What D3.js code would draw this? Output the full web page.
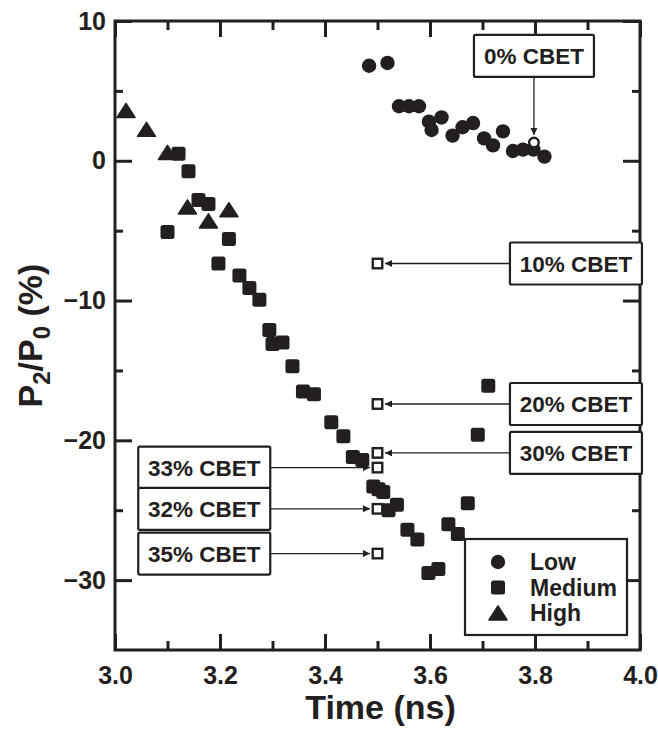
<!DOCTYPE html>
<html>
<head>
<meta charset="utf-8">
<script src="https://cdn.jsdelivr.net/npm/d3@7"></script>
<style>
  body { margin: 0; background: #fff; }
  svg { display: block; font-family: "Liberation Sans", Arial, Helvetica, sans-serif; font-weight: bold; }
</style>
</head>
<body>
<div id="root"></div>
<script>
'use strict';

// data: time (ns) and P2/P0 (%)
var lowTime = [3.484, 3.519, 3.541, 3.560, 3.579, 3.598, 3.603, 3.622, 3.643, 3.662, 3.682, 3.703, 3.720, 3.739, 3.758, 3.777, 3.797, 3.818];
var lowP2 = [6.8, 7.0, 3.9, 3.9, 3.9, 2.8, 2.2, 3.1, 1.8, 2.4, 2.7, 1.6, 1.1, 2.1, 0.7, 0.8, 0.8, 0.3];

var medTime = [3.100, 3.121, 3.140, 3.159, 3.178, 3.197, 3.217, 3.237, 3.256, 3.275, 3.294, 3.300, 3.319, 3.338, 3.358, 3.379, 3.412,
  3.435, 3.453, 3.471, 3.492, 3.502, 3.511, 3.521, 3.537, 3.557, 3.576, 3.597, 3.616, 3.635, 3.653, 3.672, 3.691, 3.711];
var medP2 = [-5.1, 0.5, -0.75, -2.8, -3.1, -7.35, -5.6, -8.2, -9.1, -9.95, -12.1, -13.1, -13.0, -14.7, -16.5, -16.7, -18.7,
  -19.7, -21.2, -21.4, -23.3, -23.5, -23.7, -25.0, -24.6, -26.4, -27.1, -29.5, -29.2, -26.0, -26.7, -24.5, -19.6, -16.1];

var highTime = [3.021, 3.060, 3.100, 3.138, 3.178, 3.217];
var highP2 = [3.6, 2.25, 0.6, -3.3, -4.3, -3.5];

// CBET simulation markers and their labels
var cbetLabels = ['0% CBET', '10% CBET', '20% CBET', '30% CBET', '33% CBET', '32% CBET', '35% CBET'];
var cbetTime = [3.798, 3.5, 3.5, 3.5, 3.5, 3.5, 3.5];
var cbetP2 = [1.3, -7.35, -17.4, -20.9, -21.95, -24.9, -28.1];
var cbetSide = ['top', 'right', 'right', 'right', 'left', 'left', 'left'];

var xMajor = [3.0, 3.2, 3.4, 3.6, 3.8, 4.0];
var xMinor = [3.1, 3.3, 3.5, 3.7, 3.9];
var yMajor = [10, 0, -10, -20, -30];
var yMinor = [5, -5, -15, -25];

var legendLabels = ['Low', 'Medium', 'High'];

var ink = '#231f20';
var width = 658;
var height = 731;
var mLeft = 115, mRight = 640, mTop = 21, mBottom = 650;

var x = d3.scaleLinear().domain([3, 4]).range([mLeft, mRight]);
var y = d3.scaleLinear().domain([-35, 10]).range([mBottom, mTop]);

var svg = d3.select('#root')
  .append('svg')
  .attr('width', width)
  .attr('height', height);

var defs = svg.append('defs');
defs.append('marker')
  .attr('id', 'head')
  .attr('markerUnits', 'userSpaceOnUse')
  .attr('viewBox', '0 0 10 10')
  .attr('refX', 10)
  .attr('refY', 5)
  .attr('markerWidth', 10)
  .attr('markerHeight', 7)
  .attr('orient', 'auto')
  .append('path')
  .attr('d', 'M0,0L10,5L0,10Z')
  .attr('fill', ink);

function styleAxis(g, fontSize) {
  g.select('.domain').remove();
  g.selectAll('.tick line').attr('stroke', ink).attr('stroke-width', 3);
  g.selectAll('.tick text')
    .attr('fill', ink)
    .style('font-size', fontSize + 'px')
    .style('font-family', '"Liberation Sans", Arial, sans-serif')
    .style('font-weight', 'bold');
}

// bottom / top
svg.append('g').attr('transform', `translate(0,${mBottom})`)
  .call(d3.axisBottom(x).tickValues(xMajor).tickFormat(d3.format('.1f')).tickSizeInner(-16).tickSizeOuter(0).tickPadding(16))
  .call(g => styleAxis(g, 25));
svg.append('g').attr('transform', `translate(0,${mBottom})`)
  .call(d3.axisBottom(x).tickValues(xMinor).tickFormat('').tickSizeInner(-9).tickSizeOuter(0))
  .call(g => styleAxis(g, 25));
svg.append('g').attr('transform', `translate(0,${mTop})`)
  .call(d3.axisTop(x).tickValues(xMajor).tickFormat('').tickSizeInner(-16).tickSizeOuter(0))
  .call(g => styleAxis(g, 25));
svg.append('g').attr('transform', `translate(0,${mTop})`)
  .call(d3.axisTop(x).tickValues(xMinor).tickFormat('').tickSizeInner(-9).tickSizeOuter(0))
  .call(g => styleAxis(g, 25));

// left / right
svg.append('g').attr('transform', `translate(${mLeft},0)`)
  .call(d3.axisLeft(y).tickValues(yMajor).tickFormat(d3.format('d')).tickSizeInner(-17).tickSizeOuter(0).tickPadding(9))
  .call(g => styleAxis(g, 25));
svg.append('g').attr('transform', `translate(${mLeft},0)`)
  .call(d3.axisLeft(y).tickValues(yMinor).tickFormat('').tickSizeInner(-8).tickSizeOuter(0))
  .call(g => styleAxis(g, 25));
svg.append('g').attr('transform', `translate(${mRight},0)`)
  .call(d3.axisRight(y).tickValues(yMajor).tickFormat('').tickSizeInner(-17).tickSizeOuter(0))
  .call(g => styleAxis(g, 25));
svg.append('g').attr('transform', `translate(${mRight},0)`)
  .call(d3.axisRight(y).tickValues(yMinor).tickFormat('').tickSizeInner(-8).tickSizeOuter(0))
  .call(g => styleAxis(g, 25));

svg.append('rect')
  .attr('x', mLeft).attr('y', mTop)
  .attr('width', mRight - mLeft).attr('height', mBottom - mTop)
  .attr('fill', 'none').attr('stroke', ink).attr('stroke-width', 3);

// axis titles
svg.append('text')
  .attr('x', (mLeft + mRight) / 2 + 3)
  .attr('y', 719)
  .attr('text-anchor', 'middle')
  .attr('fill', ink)
  .style('font-size', '34px')
  .text('Time (ns)');

var yTitle = svg.append('text')
  .attr('transform', `translate(42,${(mTop + mBottom) / 2}) rotate(-90)`)
  .attr('text-anchor', 'middle')
  .attr('fill', ink)
  .style('font-size', '34px');
yTitle.append('tspan').text('P');
yTitle.append('tspan').attr('dy', 8).style('font-size', '24px').text('2');
yTitle.append('tspan').attr('dy', -8).text('/P');
yTitle.append('tspan').attr('dy', 8).style('font-size', '24px').text('0');
yTitle.append('tspan').attr('dy', -8).text(' (%)');

// marker shapes
var triW = 18, triH = 14, sq = 14, rad = 7.2;
function triPath(cx, cy) {
  return `M${cx},${cy - triH / 2}L${cx + triW / 2},${cy + triH / 2}L${cx - triW / 2},${cy + triH / 2}Z`;
}

var low = lowTime.map((t, i) => ({ t: t, v: lowP2[i] }));
var med = medTime.map((t, i) => ({ t: t, v: medP2[i] }));
var high = highTime.map((t, i) => ({ t: t, v: highP2[i] }));

svg.append('g').selectAll('path')
  .data(high)
  .join('path')
  .attr('d', d => triPath(x(d.t), y(d.v)))
  .attr('fill', ink)
  .attr('stroke', ink)
  .attr('stroke-linejoin', 'round')
  .attr('stroke-width', 1.5);

svg.append('g').selectAll('rect')
  .data(med)
  .join('rect')
  .attr('x', d => x(d.t) - sq / 2)
  .attr('y', d => y(d.v) - sq / 2)
  .attr('width', sq)
  .attr('height', sq)
  .attr('rx', 2.5)
  .attr('fill', ink);

svg.append('g').selectAll('circle')
  .data(low)
  .join('circle')
  .attr('cx', d => x(d.t))
  .attr('cy', d => y(d.v))
  .attr('r', rad)
  .attr('fill', ink);

// CBET annotations
var cbet = cbetLabels.map((l, i) => ({ label: l, t: cbetTime[i], v: cbetP2[i], side: cbetSide[i] }));
var boxW = 132, boxH = 42, openS = 9.5;

var ann = svg.append('g');

cbet.forEach(function(d) {
  var px = x(d.t), py = y(d.v);
  var bx, by, bw = boxW, x1, y1, x2, y2;
  if (d.side === 'right') {
    bx = x(3.878) - bw / 2; by = py - boxH / 2;
    x1 = bx; y1 = py; x2 = px + 7.5; y2 = py;
  } else if (d.side === 'left') {
    bx = x(3.170) - bw / 2; by = py - boxH / 2;
    x1 = bx + bw; y1 = py; x2 = px - 7.5; y2 = py;
  } else {
    bw = 120;
    bx = px - bw / 2; by = y(7.5) - boxH / 2;
    x1 = px; y1 = by + boxH; x2 = px; y2 = py - 7.5;
  }

  ann.append('line')
    .attr('x1', x1).attr('y1', y1).attr('x2', x2).attr('y2', y2)
    .attr('stroke', ink).attr('stroke-width', 1.3)
    .attr('marker-end', 'url(#head)');

  if (d.side === 'top') {
    ann.append('circle')
      .attr('cx', px).attr('cy', py).attr('r', 4.8)
      .attr('fill', '#fff').attr('stroke', ink).attr('stroke-width', 2.4);
  } else {
    ann.append('rect')
      .attr('x', px - openS / 2).attr('y', py - openS / 2)
      .attr('width', openS).attr('height', openS)
      .attr('fill', '#fff').attr('stroke', ink).attr('stroke-width', 2.4);
  }

  ann.append('rect')
    .attr('x', bx).attr('y', by)
    .attr('width', bw).attr('height', boxH)
    .attr('rx', 1.5)
    .attr('fill', '#fff').attr('stroke', ink).attr('stroke-width', 2.2);

  ann.append('text')
    .attr('x', bx + bw / 2)
    .attr('y', by + boxH / 2 + 8)
    .attr('text-anchor', 'middle')
    .attr('fill', ink)
    .style('font-size', '22.5px')
    .text(d.label);
});

// legend
var legend = svg.append('g').attr('transform', 'translate(465,539)');
legend.append('rect')
  .attr('width', 162).attr('height', 96)
  .attr('fill', '#fff').attr('stroke', ink).attr('stroke-width', 2.2);

legendLabels.forEach(function(name, i) {
  var cy = 23 + i * 25.5;
  if (i === 0) {
    legend.append('circle').attr('cx', 33).attr('cy', cy).attr('r', rad).attr('fill', ink);
  } else if (i === 1) {
    legend.append('rect').attr('x', 33 - sq / 2).attr('y', cy - sq / 2)
      .attr('width', sq).attr('height', sq).attr('rx', 2.5).attr('fill', ink);
  } else {
    legend.append('path').attr('d', triPath(33, cy))
      .attr('fill', ink).attr('stroke', ink).attr('stroke-linejoin', 'round').attr('stroke-width', 1.5);
  }
  legend.append('text')
    .attr('x', 65)
    .attr('y', cy + 8)
    .attr('fill', ink)
    .style('font-size', '23px')
    .text(name);
});
</script>
</body>
</html>
